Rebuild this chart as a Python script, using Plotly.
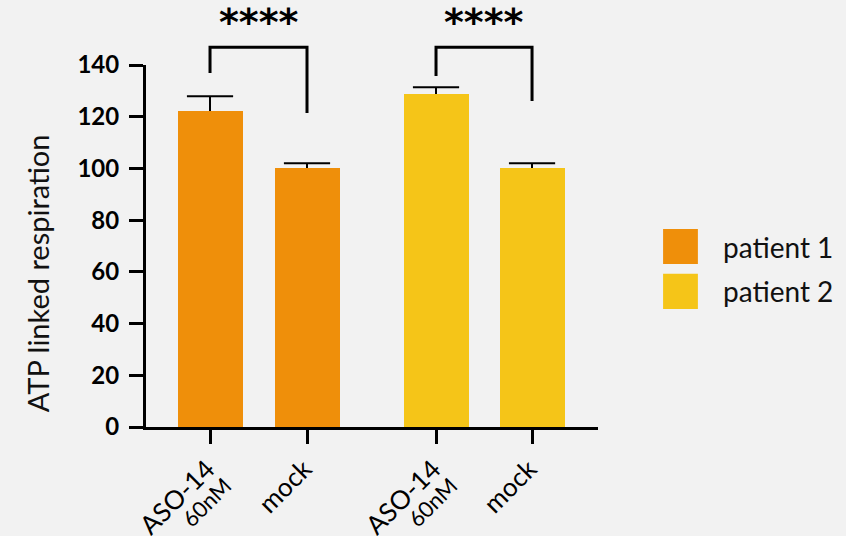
import plotly.graph_objects as go

# ---- data ----
groups = ["patient 1", "patient 2"]
conditions = ["ASO-14", "mock"]
conc_label = "60nM"
p1_values = [122.2, 100.0]
p1_err = [5.7, 2.0]
p2_values = [128.8, 100.0]
p2_err = [2.6, 2.0]
significance = ["****", "****"]
y_ticks = [0, 20, 40, 60, 80, 100, 120, 140]
y_title = "ATP linked respiration"

# ---- layout config ----
x_pos = [[0.0, 1.0], [2.33, 3.32]]
colors = ["#EF8F0A", "#F5C518"]
FONT = "Lato, Carlito, Calibri, sans-serif"
YMAX = 140

fig = go.Figure()
for gi, (vals, errs) in enumerate([(p1_values, p1_err), (p2_values, p2_err)]):
    fig.add_trace(go.Bar(
        x=x_pos[gi], y=vals, name=groups[gi],
        marker=dict(color=colors[gi], line=dict(width=0)),
        width=0.67,
        error_y=dict(type="data", array=errs, arrayminus=[0] * len(errs), symmetric=False,
                     color="black", thickness=2, width=0),
        showlegend=False,
    ))
    # caps of the error bars (top only)
    fig.add_trace(go.Scatter(
        x=x_pos[gi], y=[v + e for v, e in zip(vals, errs)], mode="markers",
        marker=dict(symbol="line-ew", size=33, color="black",
                    line=dict(color="black", width=2)),
        showlegend=False, hoverinfo="skip",
    ))

tickvals = [x for g in x_pos for x in g]
ticktext = []
for g in x_pos:
    for c in conditions:
        if c == "ASO-14":
            ticktext.append(f"<span style='font-size:26px'>{c}</span><br>"
                            f"<span style='font-size:22px'>{conc_label}</span>")
        else:
            ticktext.append(f"<span style='font-size:26px'>{c}</span>")

shapes = []
annotations = []
# significance brackets (data values converted to paper units)
bracket_top = 146.9
leg_bottom = [(136.9, 121.4), (135.7, 126.1)]
for gi in range(2):
    xl, xr = x_pos[gi]
    lb, rb = leg_bottom[gi]
    path = (f"M {xl},{lb / YMAX} L {xl},{bracket_top / YMAX} "
            f"L {xr},{bracket_top / YMAX} L {xr},{rb / YMAX}")
    shapes.append(dict(type="path", xref="x", yref="paper", path=path,
                       line=dict(color="black", width=3)))
    annotations.append(dict(x=(xl + xr) / 2, y=156.5 / YMAX, xref="x", yref="paper",
                            text=f"<b>{significance[gi]}</b>", showarrow=False,
                            font=dict(family="DejaVu Sans", size=38, color="black"),
                            xanchor="center", yanchor="middle", borderpad=0))

# y-axis title (placed as in the reference, slightly below the axis centre)
annotations.append(dict(x=-0.241, y=0.425, xref="paper", yref="paper", text=y_title,
                        textangle=-90, showarrow=False, xanchor="center", yanchor="middle",
                        font=dict(family=FONT, size=29, color="#111111")))

# manual legend with large swatches
leg_x0, leg_x1 = 1.144, 1.221
leg_rows = [(0.450, 0.547), (0.326, 0.423)]
for gi in range(2):
    y0, y1 = leg_rows[gi]
    shapes.append(dict(type="rect", xref="paper", yref="paper", x0=leg_x0, x1=leg_x1,
                       y0=y0, y1=y1, fillcolor=colors[gi], line=dict(width=0)))
    annotations.append(dict(x=1.272, y=(y0 + y1) / 2, xref="paper", yref="paper",
                            text=groups[gi], showarrow=False, xanchor="left", yanchor="middle",
                            font=dict(family=FONT, size=28, color="#111111")))

fig.update_layout(
    width=846, height=536,
    margin=dict(l=146, r=248, t=65, b=109, pad=0, autoexpand=False),
    paper_bgcolor="#F2F2F2", plot_bgcolor="#F2F2F2",
    bargap=0,
    shapes=shapes, annotations=annotations,
    font=dict(family=FONT, color="black"),
)
fig.update_yaxes(
    range=[0, YMAX], tickvals=y_ticks, showgrid=False, zeroline=False,
    showline=True, linecolor="black", linewidth=3, automargin=False,
    ticks="outside", ticklen=14, tickwidth=3, tickcolor="black",
    tickfont=dict(family=FONT, size=24, color="black", weight="bold"),
    ticklabelstandoff=5,
)
fig.update_xaxes(
    range=[-0.66, 4.0], tickvals=tickvals, ticktext=ticktext, tickangle=-45,
    showgrid=False, zeroline=False, automargin=False,
    showline=True, linecolor="black", linewidth=3,
    ticks="outside", ticklen=14, tickwidth=3, tickcolor="black",
    tickfont=dict(family=FONT, size=18, color="black"),
    ticklabelstandoff=8,
)

fig.write_html("out.html", config={"displayModeBar": False},
               post_script="document.body.style.margin='0px';")
